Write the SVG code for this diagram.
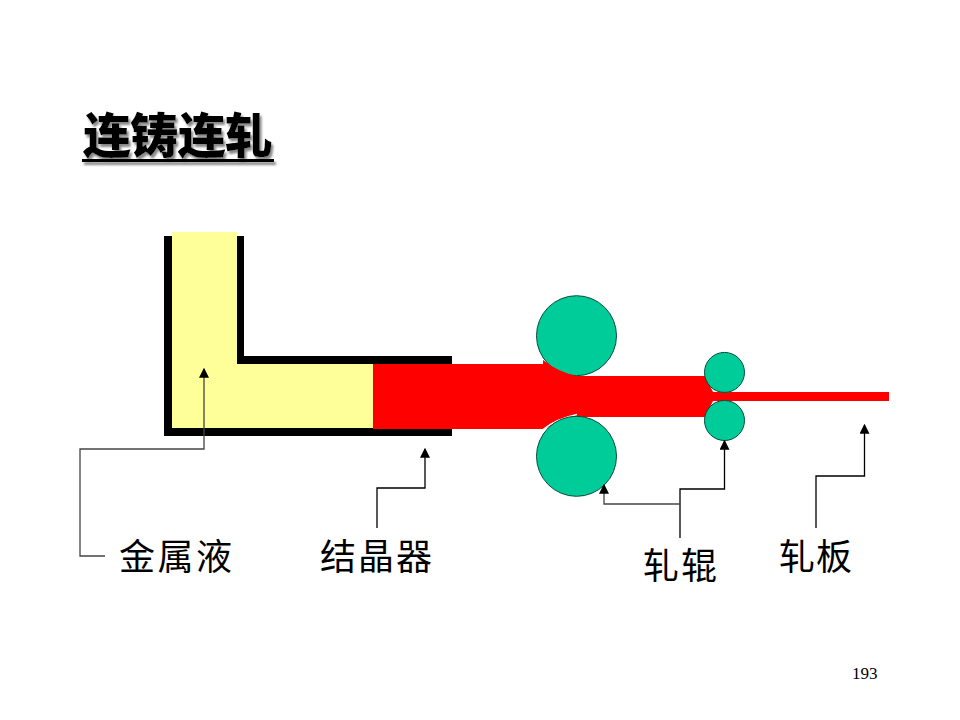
<svg xmlns="http://www.w3.org/2000/svg" width="960" height="720" viewBox="0 0 960 720">
<style>
.t{font-family:"Noto Sans CJK SC","Liberation Sans",sans-serif;fill:#000}
.title{font-size:48px;font-weight:900}
.lab{font-size:36px;font-weight:400}
.c{fill:none;stroke:#000;stroke-width:1.3}
.g{stroke:#444}
.roll{fill:#00cc99;stroke:#004d3a;stroke-width:1}
</style>
<defs>
<marker id="a" markerUnits="userSpaceOnUse" markerWidth="10" markerHeight="10" refX="7" refY="4" orient="auto" viewBox="0 0 8 8"><path d="M0 0L8 4L0 8Z" fill="#000"/></marker>
<filter id="sh" x="-5%" y="-10%" width="115%" height="130%"><feDropShadow dx="2" dy="3" stdDeviation="1.200" flood-color="#888"/></filter>
</defs>
<rect width="960" height="720" fill="#fff"/>
<g id="title" filter="url(#sh)">
<text class="t title" x="83" y="153" textLength="190">连铸连轧</text>
<rect x="82" y="159" width="192" height="3" fill="#000"/>
</g>
<g id="mould">
<path d="M164 236H172V428H423V436H164ZM236 236H244V356H452V364H236ZM423 429H452V436H423Z" fill="#000"/>
</g>
<g id="liquid"><path d="M172 232H237V364H373V428H172Z" fill="#ffff99"/></g>
<g id="strip">
<path d="M373 364H543L577 376H705L713 392H889V401H713L705 417H577L543 429H373Z" fill="#f00"/>
</g>
<g id="rolls">
<circle class="roll" cx="576.500" cy="335.700" r="40"/>
<path d="M543 429.500Q556 419 577 414.500" fill="none" stroke="#fff" stroke-width="1.500"/>
<circle class="roll" cx="576.500" cy="456.300" r="40"/>
<path d="M543 360Q558 372 577 376L577 380H543Z" fill="#f00"/>
<circle class="roll" cx="724.500" cy="372.400" r="20"/>
<circle class="roll" cx="724.500" cy="420.500" r="20"/>
</g>
<g id="connectors">
<path class="c g" d="M105 556H80V449H204V369" marker-end="url(#a)"/>
<path class="c" d="M377 528V488H425V449" marker-end="url(#a)"/>
<path class="c" d="M680 538V489H724.500V441" marker-end="url(#a)"/>
<path class="c g" d="M680 504H604V485" marker-end="url(#a)"/>
<path class="c" d="M816 528V476H864.500V425" marker-end="url(#a)"/>
</g>
<g id="label-metal"><text class="t lab" x="119" y="570" textLength="113">金属液</text></g>
<g id="label-mould"><text class="t lab" x="320" y="570" textLength="112">结晶器</text></g>
<g id="label-rolls"><text class="t lab" x="643" y="579" textLength="74">轧辊</text></g>
<g id="label-plate"><text class="t lab" x="779" y="570" textLength="73">轧板</text></g>
<g id="page"><text x="852" y="679" font-family="Liberation Serif,serif" font-size="17">193</text></g>
</svg>
